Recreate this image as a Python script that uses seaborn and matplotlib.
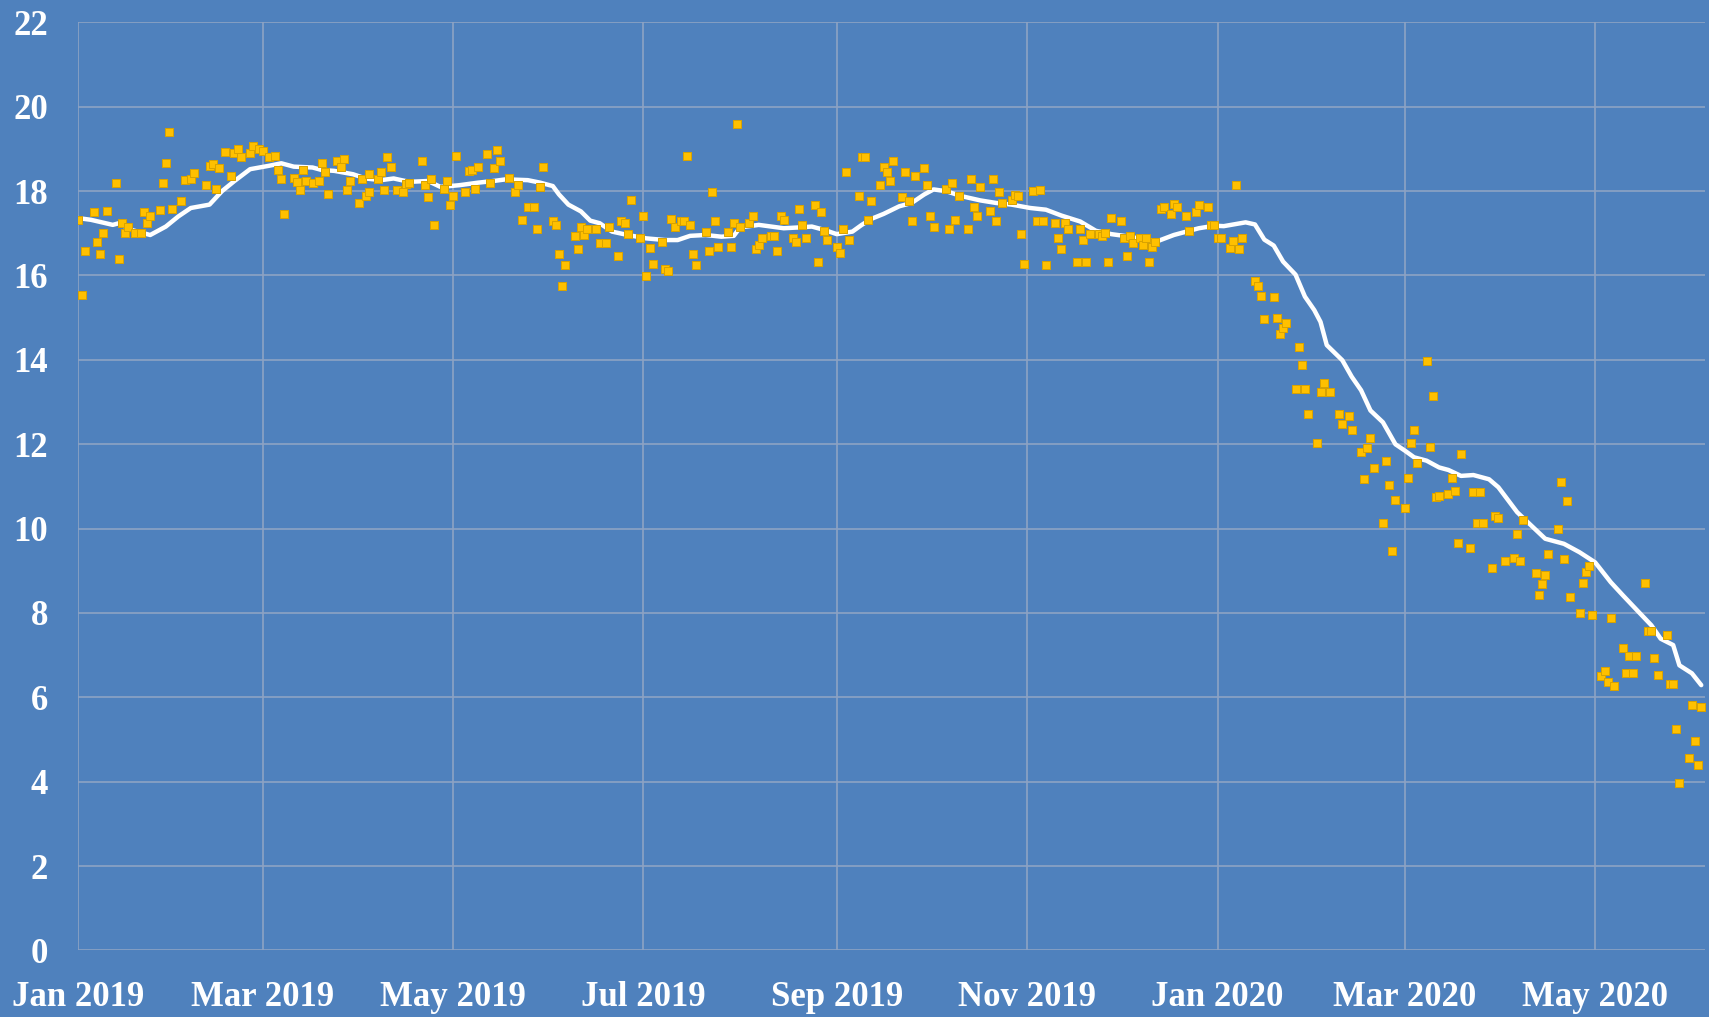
import matplotlib
matplotlib.use("Agg")
import matplotlib.pyplot as plt
import matplotlib.dates as mdates
import seaborn as sns
import pandas as pd
import numpy as np

# ---------------- data (days since 2019-01-01, value) ----------------
base_date = "2019-01-01"

point_days = [
    0, 1, 2, 5, 6, 7, 8, 9, 12, 13, 14, 15, 16, 18, 20, 21, 22, 23, 26, 27, 28, 29, 30,
    33, 34, 36, 37, 41, 42, 43, 44, 45, 47, 49, 50, 51, 52, 55, 56, 58, 59, 61, 63, 64,
    65, 66, 69, 70, 71, 72, 73, 75, 77, 78, 79, 80, 83, 84, 85, 86, 87, 90, 91, 92, 93,
    93, 96, 97, 98, 99, 100, 102, 104, 105, 106, 110, 111, 112, 113, 114, 117, 118, 119,
    120, 121, 124, 125, 126, 127, 128, 131, 132, 133, 134, 135, 138, 140, 141, 142, 144,
    146, 147, 148, 149, 152, 153, 154, 155, 156, 159, 160, 161, 162, 163, 166, 167, 169,
    170, 173, 174, 175, 176, 177, 180, 181, 182, 183,
    184, 187, 188, 189, 190, 191, 193, 194, 195, 196, 197, 198, 201, 202, 203, 204, 205,
    208, 209, 210, 211, 212, 215, 216, 217, 218, 219, 222, 223, 224, 225, 226, 229, 230,
    231, 232, 233, 236, 237, 238, 239, 240, 243, 244, 245, 246, 247, 250, 251, 252, 253,
    254, 257, 258, 259, 260, 261, 264, 265, 266, 267, 268, 271, 272, 273, 274,
    278, 279, 280, 281, 282, 285, 286, 287, 288, 289, 292, 293, 294, 295, 296, 299, 300,
    301, 302, 303, 306, 307, 308, 309, 310, 313, 314, 315, 316, 317, 320, 321, 322, 323,
    324, 327, 328, 329, 330, 331, 334, 335, 336, 337, 338, 340, 341, 342, 343, 344, 345,
    347, 348, 350, 351, 352, 355, 356, 358, 359, 362, 363, 364, 365,
    366, 369, 370, 371, 372, 373, 377, 378, 379, 380, 383, 384, 385, 386, 387, 390, 391,
    392, 393, 394, 397, 398, 399, 401, 404, 405, 407, 408, 411, 412, 413, 414, 415, 418,
    419, 420, 421, 422, 425, 426, 427, 428, 429, 432, 433, 434, 435, 436, 439, 440, 441,
    442, 443,
    446, 447, 448, 449, 450, 453, 454, 455, 457, 460, 461, 462, 463, 467, 468, 469, 470,
    471, 474, 475, 476, 477, 478, 481, 482, 483, 484, 485, 488, 489, 490, 491, 492, 495,
    496, 497, 498, 499, 502, 503, 504, 505, 506, 509, 510, 511, 512, 513, 516, 517, 518,
    519, 520,
]

point_values = [
    17.32, 15.54, 16.58, 17.5, 16.8, 16.5, 17.0, 17.54, 18.2, 16.4, 17.25, 17.0, 17.15,
    17.0, 17.0, 17.5, 17.25, 17.4, 17.55, 18.2, 18.67, 19.4, 17.58, 17.76, 18.26, 18.28,
    18.42, 18.15, 18.6, 18.64, 18.05, 18.55, 18.93, 18.36, 18.9, 19.0, 18.8, 18.9, 19.08,
    19.0, 18.94, 18.8, 18.84, 18.5, 18.28, 17.46, 18.3, 18.22, 18.02, 18.5, 18.24, 18.2,
    18.24, 18.66, 18.46, 17.93, 18.72, 18.58, 18.76, 18.02, 18.24, 17.72, 18.28, 17.88,
    18.4,
    17.98, 18.28, 18.46, 18.02, 18.8, 18.58, 18.02, 17.98, 18.16, 18.2, 18.72, 18.14,
    17.85, 18.28, 17.19, 18.04, 18.24, 17.67, 17.89, 18.84, 17.98, 18.48, 18.5, 18.06,
    18.58, 18.89, 18.2, 18.54, 18.98, 18.71, 18.32, 17.98, 18.15, 17.32, 17.62, 17.62,
    17.1, 18.1, 18.58, 17.28, 17.19, 16.5, 15.76, 16.24, 16.94, 16.63, 17.16, 16.96, 17.1,
    17.1, 16.76, 16.76, 17.16, 16.46, 17.3, 17.24, 16.98, 17.8, 16.9, 17.42, 15.98, 16.64,
    16.28, 16.8, 16.15, 16.1, 17.34, 17.15, 17.3, 17.29, 18.84, 17.19, 16.5, 16.24, 17.02,
    16.58, 17.98, 17.28, 16.67, 17.02, 16.67, 17.24, 19.58, 17.15, 17.24, 17.41, 16.63,
    16.72, 16.89, 16.94, 16.94, 16.58, 17.4, 17.32, 16.89, 16.8, 17.58, 17.19, 16.89,
    17.67, 16.32, 17.5, 17.06, 16.85, 16.68, 16.54, 17.1, 18.46, 16.85, 17.89, 18.8, 18.8,
    17.32, 17.76, 18.15, 18.58, 18.46, 18.24, 18.71, 17.85, 18.46, 17.76, 17.28, 18.37,
    18.54, 18.15, 17.42, 17.15,
    18.06, 17.1, 18.19, 17.32, 17.89, 17.1, 18.28, 17.62, 17.41, 18.1, 17.54, 18.28, 17.28,
    17.98, 17.71, 17.8, 17.9, 17.89, 16.98, 16.28, 18.0, 17.3, 18.02, 17.28, 16.24, 17.24,
    16.89, 16.63, 17.24, 17.1, 16.32, 17.1, 16.85, 16.32, 16.98, 16.98, 16.94, 17.0, 16.32,
    17.37, 17.28, 16.89, 16.46, 16.94, 16.76, 16.89, 16.72, 16.89, 16.32, 16.67, 16.8,
    17.58, 17.62, 17.46, 17.7, 17.62, 17.41, 17.06, 17.5, 17.67, 17.62, 17.19, 17.19, 16.89,
    16.9, 16.66, 16.81, 18.15, 16.63, 16.9, 15.88, 15.74, 15.52, 14.96, 15.48, 15.0, 14.61,
    14.75, 14.87, 13.32, 14.31, 13.88, 13.32, 12.72, 12.02, 13.24, 13.45, 13.24, 12.72,
    12.47, 12.67, 12.33, 11.81, 11.17, 11.9, 12.15, 11.43, 10.13, 11.6, 11.04, 9.48, 10.69,
    10.48, 11.21, 12.02, 12.33, 11.56, 13.97, 11.94, 13.14, 10.75, 10.78, 10.82, 11.21,
    10.9, 9.66, 11.77,
    9.54, 10.86, 10.13, 10.86, 10.13, 9.06, 10.3, 10.26, 9.24, 9.31, 9.87, 9.24, 10.21,
    8.94, 8.42, 8.68, 8.89, 9.41, 10.0, 11.11, 9.28, 10.65, 8.38, 7.99, 8.72, 8.98, 9.11,
    7.95, 6.5, 6.62, 6.36, 7.87, 6.28, 7.18, 6.58, 6.97, 6.58, 6.97, 8.72, 7.57, 7.57, 6.93,
    6.54, 7.48, 6.32, 6.32, 5.26, 3.98, 4.57, 5.81, 4.96, 4.4, 5.77,
]

line_days = [
    0, 4, 11, 13, 17, 23, 28, 32, 36, 42, 46, 50, 55, 61, 65, 69, 75, 78, 82, 88, 92, 97,
    101, 106, 112, 116, 122, 128, 133, 137, 144, 148, 152, 154, 157, 161, 164, 167, 171,
    176, 182, 188, 192, 196, 201, 206, 210, 212, 218, 222, 226, 231, 235, 239, 243, 248,
    251, 254, 258, 263, 267, 271, 274, 278, 283, 289, 294, 299, 305, 310, 315, 321, 326,
    331, 337, 342, 346, 351, 355, 359, 364, 367, 374, 377, 380, 383, 386, 390, 393, 396,
    398, 400, 405, 408, 411, 414, 418, 422, 425, 428, 432, 436, 439, 443, 447, 452, 455,
    461, 465, 470, 476, 481, 486, 491, 495, 500, 504, 507, 511, 513, 517, 520,
]
line_values = [
    17.36, 17.32, 17.2, 17.24, 17.08, 16.96, 17.16, 17.4, 17.6, 17.68, 18.0, 18.24, 18.52,
    18.6, 18.66, 18.58, 18.56, 18.5, 18.48, 18.4, 18.3, 18.26, 18.3, 18.22, 18.24, 18.1,
    18.14, 18.2, 18.24, 18.28, 18.26, 18.2, 18.12, 17.92, 17.68, 17.52, 17.3, 17.24, 17.04,
    16.96, 16.88, 16.84, 16.84, 16.94, 16.96, 16.92, 16.94, 17.14, 17.2, 17.16, 17.12,
    17.14, 17.16, 17.08, 16.98, 17.04, 17.2, 17.34, 17.46, 17.64, 17.72, 17.92, 18.04, 18.0,
    17.88, 17.78, 17.72, 17.68, 17.6, 17.56, 17.42, 17.28, 17.06, 16.98, 16.92, 16.84,
    16.82, 16.96, 17.04, 17.12, 17.18, 17.17, 17.26, 17.21, 16.85, 16.71, 16.33, 16.02,
    15.5, 15.18, 14.9, 14.35, 13.99, 13.6, 13.28, 12.8, 12.52, 12.0, 11.85, 11.69, 11.61,
    11.45, 11.39, 11.25, 11.27, 11.17, 10.98, 10.39, 10.11, 9.76, 9.64, 9.44, 9.2, 8.73,
    8.41, 8.02, 7.71, 7.39, 7.24, 6.76, 6.57, 6.29,
]

y_ticks = [0, 2, 4, 6, 8, 10, 12, 14, 16, 18, 20, 22]

# ---------------- frames ----------------
start = pd.Timestamp(base_date)
n = min(len(point_days), len(point_values))
pts = pd.DataFrame({
    "date": start + pd.to_timedelta(point_days[:n], unit="D"),
    "value": point_values[:n],
})
m = min(len(line_days), len(line_values))
ln = pd.DataFrame({
    "date": start + pd.to_timedelta(line_days[:m], unit="D"),
    "value": line_values[:m],
})

# ---------------- style ----------------
BG = "#4F81BD"
sns.set_theme(style="whitegrid")
plt.rcParams["font.family"] = ["Liberation Serif", "DejaVu Serif"]

fig = plt.figure(figsize=(17.09, 10.17), dpi=100, facecolor=BG)
ax = fig.add_axes([0.0459, 0.0654, 0.952, 0.9126])
ax.set_facecolor(BG)

sns.lineplot(data=ln, x="date", y="value", ax=ax, color="white", linewidth=3.2,
             zorder=3, legend=False)
sns.scatterplot(data=pts, x="date", y="value", ax=ax, marker="s", s=34,
                color="#FFC000", edgecolor="#D9A300", linewidth=0.7, zorder=4,
                legend=False)

ax.set_ylim(0, 22)
ax.set_yticks(y_ticks)
ax.set_xlim(start, pd.Timestamp("2020-06-05 08:00"))
ax.xaxis.set_major_locator(mdates.MonthLocator(bymonth=[1, 3, 5, 7, 9, 11]))
ax.xaxis.set_major_formatter(mdates.DateFormatter("%b %Y"))

ax.grid(True, color="#8DA3C4", linewidth=1.2)
ax.set_axisbelow(True)
for s in ax.spines.values():
    s.set_visible(False)
ax.set_xlabel("")
ax.set_ylabel("")
ax.tick_params(axis="both", length=0, colors="white", labelsize=25)
ax.tick_params(axis="y", pad=22)
ax.tick_params(axis="x", pad=22)
for lab in ax.get_xticklabels() + ax.get_yticklabels():
    lab.set_fontweight("bold")
    lab.set_color("white")

fig.savefig("out.png", dpi=100, facecolor=BG)
